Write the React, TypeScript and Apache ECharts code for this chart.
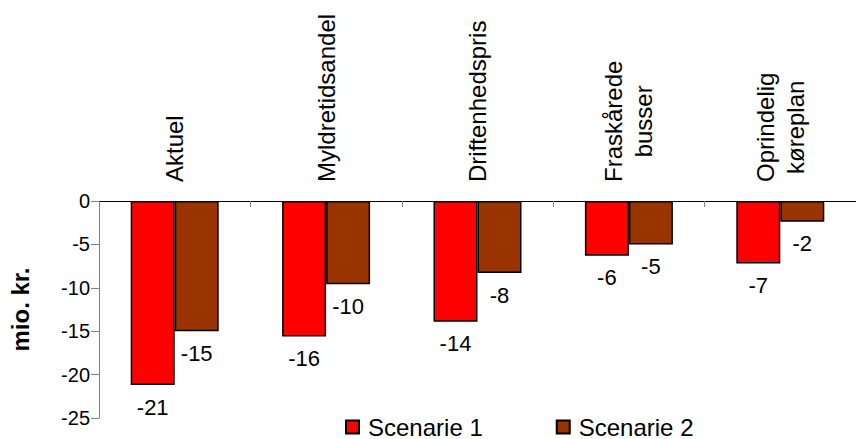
import React, { useEffect, useRef } from "react";
import * as echarts from "echarts";

const categories = ["Aktuel", "Myldretidsandel", "Driftenhedspris", "Fraskårede\nbusser", "Oprindelig\nkøreplan"];
const seriesNames = ["Scenarie 1", "Scenarie 2"];
const scenario1 = [-21.2, -15.6, -13.9, -6.3, -7.2];
const scenario2 = [-15.0, -9.6, -8.3, -5.0, -2.4];
const colors = ["#FF0000", "#993300"];
const yTicks = { min: -25, max: 0, interval: 5 };

const FONT = "'Liberation Sans', Arial, sans-serif";

export default function App() {
  const ref = useRef<HTMLDivElement>(null);
  useEffect(() => {
    if (!ref.current) return;
    const chart = echarts.init(ref.current, undefined, { renderer: "svg" });
    const mkSeries = (name: string, data: number[], color: string) => ({
      name,
      type: "bar",
      data,
      barWidth: 44,
      barGap: "0%",
      itemStyle: { color, borderColor: "#000", borderWidth: 1.5 },
      label: {
        show: true,
        position: "bottom",
        distance: 11,
        fontFamily: FONT,
        fontSize: 22,
        color: "#000",
        formatter: (p: any) => String(Math.round(p.value)),
      },
    });
    chart.setOption({
      animation: false,
      textStyle: { fontFamily: FONT },
      grid: { left: 99, top: 201, width: 765, height: 217, containLabel: false },
      legend: {
        left: 345,
        top: 415,
        padding: 0,
        itemWidth: 13,
        itemHeight: 13,
        itemGap: 73,
        icon: "rect",
        textStyle: { fontFamily: FONT, fontSize: 24, color: "#000", padding: [0, 0, 0, 4] },
        data: seriesNames,
      },
      xAxis: {
        type: "category",
        position: "top",
        data: categories,
        axisLine: { show: true, lineStyle: { color: "#000", width: 1 } },
        axisTick: { show: true, inside: true, length: 6, lineStyle: { color: "#808080" } },
        axisLabel: {
          rotate: 90,
          margin: 19,
          interval: 0,
          fontFamily: FONT,
          fontSize: 24,
          color: "#000",
          formatter: (v: string) =>
            v
              .split("\n")
              .map((l) => `{c|${l}}`)
              .join("\n"),
          rich: {
            c: { align: "center", fontFamily: FONT, fontSize: 24, lineHeight: 30, color: "#000" },
          },
        },
      },
      yAxis: {
        type: "value",
        min: yTicks.min,
        max: yTicks.max,
        interval: yTicks.interval,
        name: "mio. kr.",
        nameLocation: "middle",
        nameRotate: 90,
        nameGap: 67,
        nameTextStyle: { fontFamily: FONT, fontSize: 24, fontWeight: "bold", color: "#000" },
        axisLine: { show: true, lineStyle: { color: "#808080", width: 1 } },
        axisTick: { show: true, length: 8, lineStyle: { color: "#808080" } },
        axisLabel: { margin: 9, fontFamily: FONT, fontSize: 20, color: "#000" },
        splitLine: { show: false },
      },
      series: [
        mkSeries(seriesNames[0], scenario1, colors[0]),
        mkSeries(seriesNames[1], scenario2, colors[1]),
      ],
    });
    return () => chart.dispose();
  }, []);
  return <div ref={ref} style={{ position: "absolute", left: 0, top: 0, width: 856, height: 439 }} />;
}
